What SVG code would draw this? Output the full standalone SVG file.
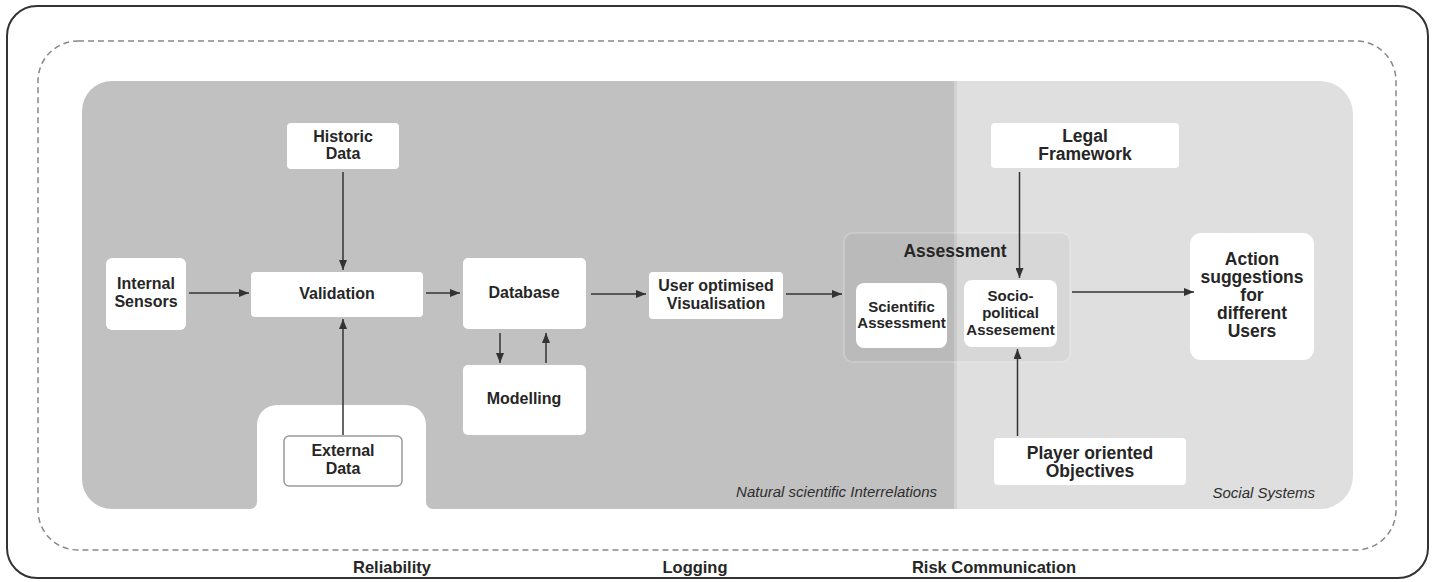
<svg xmlns="http://www.w3.org/2000/svg" width="1436" height="582" viewBox="0 0 1436 582">
<defs>
<marker id="ah" markerWidth="10" markerHeight="8" refX="10" refY="4" orient="auto" markerUnits="userSpaceOnUse">
<path d="M0,0 L10,4 L0,8 Z" fill="#333"/>
</marker>
<style>
.box{fill:#fff;}
.t{font-family:"Liberation Sans",Arial,sans-serif;font-weight:bold;fill:#262626;text-anchor:middle;}
.l{font-size:16px;}
.r{font-size:17.5px;}
.s{font-size:15px;}
.it{font-family:"Liberation Sans",Arial,sans-serif;font-style:italic;font-size:15px;fill:#2e2e2e;text-anchor:end;}
.c{stroke:#333;stroke-width:1.5;fill:none;marker-end:url(#ah);}
</style>
</defs>
<rect width="1436" height="582" fill="#fff"/>
<g id="frame">
<rect x="7" y="6" width="1421" height="572" rx="30" fill="none" stroke="#333" stroke-width="2"/>
<rect x="38" y="41" width="1358" height="509" rx="40" fill="none" stroke="#888" stroke-width="1.5" stroke-dasharray="6 4"/>
</g>
<g id="panels">
<path d="M954 81 H1320 A33 33 0 0 1 1353 114 V476 A33 33 0 0 1 1320 509 H954 Z" fill="#dfdfdf"/>
<path d="M954 81 H112 A30 30 0 0 0 82 111 V479 A30 30 0 0 0 112 509 H250 A7 7 0 0 0 257 502 V425 A20 20 0 0 1 277 405 H406 A20 20 0 0 1 426 425 V502 A7 7 0 0 0 433 509 H954 Z" fill="#c1c1c1"/>
<rect x="954" y="81" width="3" height="428" fill="#d2d2d2"/>
<text class="it" x="937" y="497">Natural scientific Interrelations</text>
<text class="it" x="1315" y="498">Social Systems</text>
</g>
<g id="assessment">
<rect x="844" y="233" width="226" height="129" rx="9" fill="#000" fill-opacity="0.035" stroke="#fff" stroke-opacity="0.2" stroke-width="2"/>
<text class="t r" x="955" y="257">Assessment</text>
</g>
<g id="historic">
<rect class="box" x="287" y="123" width="112" height="46" rx="4"/>
<text class="t l" x="343" y="142">Historic</text>
<text class="t l" x="343" y="159">Data</text>
</g>
<g id="internal">
<rect class="box" x="106" y="258" width="80" height="72" rx="6"/>
<text class="t l" x="146" y="289">Internal</text>
<text class="t l" x="146" y="307">Sensors</text>
</g>
<g id="validation">
<rect class="box" x="251" y="272" width="172" height="45" rx="4"/>
<text class="t l" x="337" y="299">Validation</text>
</g>
<g id="external">
<rect x="284" y="436" width="118" height="50" rx="5" fill="#fff" stroke="#9a9a9a" stroke-width="1.5"/>
<text class="t l" x="343" y="456">External</text>
<text class="t l" x="343" y="474">Data</text>
</g>
<g id="database">
<rect class="box" x="463" y="258" width="123" height="71" rx="5"/>
<text class="t l" x="524" y="298">Database</text>
</g>
<g id="modelling">
<rect class="box" x="463" y="365" width="123" height="70" rx="5"/>
<text class="t l" x="524" y="404">Modelling</text>
</g>
<g id="visualisation">
<rect class="box" x="649" y="272" width="134" height="47" rx="4"/>
<text class="t l" x="716" y="291">User optimised</text>
<text class="t l" x="716" y="309">Visualisation</text>
</g>
<g id="scientific">
<rect class="box" x="856" y="283" width="91" height="65" rx="8"/>
<text class="t s" x="901.5" y="312">Scientific</text>
<text class="t s" x="901.5" y="328">Assessment</text>
</g>
<g id="sociopolitical">
<rect class="box" x="964" y="280" width="93" height="67" rx="8"/>
<text class="t s" x="1010.5" y="301">Socio-</text>
<text class="t s" x="1010.5" y="318">political</text>
<text class="t s" x="1010.5" y="335">Assesement</text>
</g>
<g id="legal">
<rect class="box" x="991" y="123" width="188" height="45" rx="4"/>
<text class="t r" x="1085" y="142">Legal</text>
<text class="t r" x="1085" y="160">Framework</text>
</g>
<g id="player">
<rect class="box" x="994" y="438" width="192" height="47" rx="4"/>
<text class="t r" x="1090" y="459">Player oriented</text>
<text class="t r" x="1090" y="477">Objectives</text>
</g>
<g id="action">
<rect class="box" x="1190" y="233" width="124" height="127" rx="11"/>
<text class="t r" x="1252" y="265">Action</text>
<text class="t r" x="1252" y="283">suggestions</text>
<text class="t r" x="1252" y="301">for</text>
<text class="t r" x="1252" y="319">different</text>
<text class="t r" x="1252" y="337">Users</text>
</g>
<g id="connectors">
<line class="c" x1="343" y1="172" x2="343" y2="270"/>
<line class="c" x1="343" y1="435" x2="343" y2="319"/>
<line class="c" x1="189" y1="293" x2="249" y2="293"/>
<line class="c" x1="426" y1="293" x2="460" y2="293"/>
<line class="c" x1="591" y1="294" x2="646" y2="294"/>
<line class="c" x1="786" y1="294" x2="842" y2="294"/>
<line class="c" x1="500" y1="333" x2="500" y2="363"/>
<line class="c" x1="546" y1="363" x2="546" y2="333"/>
<line class="c" x1="1019.5" y1="172" x2="1019.5" y2="278"/>
<line class="c" x1="1017.5" y1="436" x2="1017.5" y2="349"/>
<line class="c" x1="1072" y1="292" x2="1194" y2="292"/>
</g>
<g id="labels">
<text class="t" style="font-size:16.5px" x="392" y="573">Reliability</text>
<text class="t" style="font-size:16.5px" x="695" y="573">Logging</text>
<text class="t" style="font-size:16.5px" x="994" y="573">Risk Communication</text>
</g>
</svg>
